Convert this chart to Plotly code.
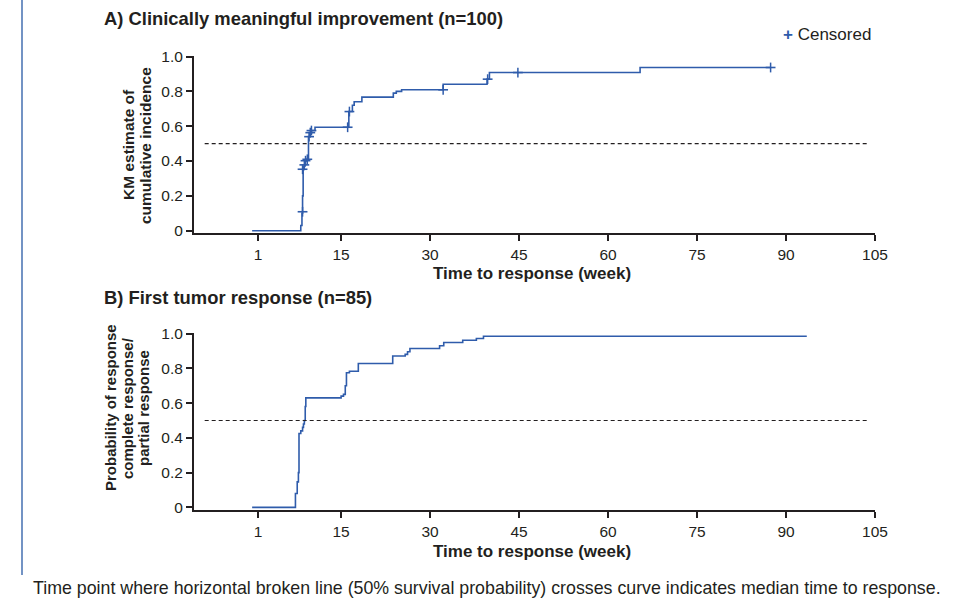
import plotly.graph_objects as go

# ---- Data -------------------------------------------------------------
# A) Clinically meaningful improvement (KM step curve)
a_time = [0, 8.2, 8.4, 8.5, 8.6, 8.7, 8.9, 9.2, 9.5, 9.7, 10.0, 10.6,
          16.3, 16.9, 17.2, 18.5, 23.8, 24.3, 25.2, 32.2, 39.6, 40.0, 65.4, 87.4]
a_prob = [0, 0.03, 0.10, 0.20, 0.35, 0.37, 0.40, 0.41, 0.54, 0.56, 0.575, 0.594,
          0.684, 0.72, 0.74, 0.767, 0.79, 0.80, 0.809, 0.841, 0.870, 0.908, 0.937, 0.937]
a_cens_time = [8.5, 8.5, 8.8, 9.0, 9.3, 9.6, 9.8, 10.0, 16.1, 16.4, 32.2, 39.7, 44.8, 87.4]
a_cens_prob = [0.109, 0.353, 0.378, 0.402, 0.41, 0.54, 0.563, 0.575, 0.594, 0.684,
               0.809, 0.870, 0.908, 0.937]

# B) First tumor response (KM step curve)
b_time = [0, 7.3, 7.6, 7.8, 7.9, 8.2, 8.5, 8.65, 8.8, 8.95, 9.05, 15.0, 15.4, 15.7,
          15.9, 16.4, 17.9, 23.7, 25.8, 26.2, 26.6, 31.6, 32.3, 35.5, 37.8, 39.0, 93.5]
b_prob = [0, 0.08, 0.147, 0.20, 0.425, 0.44, 0.46, 0.48, 0.50, 0.58, 0.63, 0.64, 0.65,
          0.70, 0.774, 0.783, 0.828, 0.871, 0.88, 0.895, 0.914, 0.93, 0.948, 0.961,
          0.971, 0.984, 0.984]

x_tickvals = [1, 15, 30, 45, 60, 75, 90, 105]
x_ticktext = ["1", "15", "30", "45", "60", "75", "90", "105"]
y_tickvals = [0, 0.2, 0.4, 0.6, 0.8, 1.0]
y_ticktext = ["0", "0.2", "0.4", "0.6", "0.8", "1.0"]
median_level = 0.5

# ---- Styling ----------------------------------------------------------
W, H = 963, 603
BLUE = "#2f5cab"
INK = "#231f20"
FONT = "Liberation Sans, Arial, Helvetica, sans-serif"

def px_x(p):
    return p / W

def px_y(p):
    return 1 - p / H

fig = go.Figure()

fig.add_trace(go.Scatter(x=a_time, y=a_prob, mode="lines", line=dict(color=BLUE, width=1.6, shape="hv"),
                         xaxis="x", yaxis="y", showlegend=False, hoverinfo="skip"))
fig.add_trace(go.Scatter(x=a_cens_time, y=a_cens_prob, mode="markers",
                         marker=dict(symbol="line-ew", size=7, line=dict(color=BLUE, width=1.6)),
                         xaxis="x", yaxis="y", showlegend=False, hoverinfo="skip"))
fig.add_trace(go.Scatter(x=a_cens_time, y=a_cens_prob, mode="markers",
                         marker=dict(symbol="line-ns", size=7, line=dict(color=BLUE, width=1.5)),
                         xaxis="x", yaxis="y", showlegend=False, hoverinfo="skip"))
fig.add_trace(go.Scatter(x=b_time, y=b_prob, mode="lines", line=dict(color=BLUE, width=1.6, shape="hv"),
                         xaxis="x2", yaxis="y2", showlegend=False, hoverinfo="skip"))

x_dom = [px_x(194), px_x(875)]
x_range = [-9.8, 105]

axis_common = dict(showline=True, linecolor=INK, linewidth=2, ticks="outside",
                   tickcolor=INK, tickwidth=1.5, ticklen=6, showgrid=False, zeroline=False,
                   automargin=False,
                   tickfont=dict(family=FONT, size=15.5, color=INK), fixedrange=True)

fig.update_layout(
    width=W, height=H, autosize=False,
    margin=dict(l=0, r=0, t=0, b=0, pad=0, autoexpand=False),
    paper_bgcolor="white", plot_bgcolor="white",
    xaxis=dict(domain=x_dom, range=x_range, anchor="y", tickvals=x_tickvals, ticktext=x_ticktext,
               ticklabelstandoff=0, **axis_common),
    yaxis=dict(domain=[px_y(233), px_y(56)], range=[-0.013, 1.003], anchor="x",
               tickvals=y_tickvals, ticktext=y_ticktext, **axis_common),
    xaxis2=dict(domain=x_dom, range=x_range, anchor="y2", tickvals=x_tickvals, ticktext=x_ticktext,
                ticklabelstandoff=0, **axis_common),
    yaxis2=dict(domain=[px_y(510), px_y(333)], range=[-0.015, 1.003], anchor="x2",
                tickvals=y_tickvals, ticktext=y_ticktext, **axis_common),
    font=dict(family=FONT, color=INK),
)

# median reference lines
for xr, yr in (("x", "y"), ("x2", "y2")):
    fig.add_shape(type="line", xref=xr, yref=yr, x0=-8, x1=104, y0=median_level, y1=median_level,
                  line=dict(color=INK, width=1.1, dash="4px,3px"))

# left blue rule
fig.add_shape(type="line", xref="paper", yref="paper", x0=px_x(22), x1=px_x(22), y0=px_y(575), y1=1,
              line=dict(color="#7393c4", width=2))

def ann(text, x, y, size=15, bold=False, xanchor="left", yanchor="middle", angle=0, color=INK):
    if bold:
        text = "<b>" + text + "</b>"
    fig.add_annotation(text=text, x=px_x(x), y=px_y(y), xref="paper", yref="paper",
                       showarrow=False, xanchor=xanchor, yanchor=yanchor, textangle=angle,
                       font=dict(family=FONT, size=size, color=color))

ann("A) Clinically meaningful improvement (n=100)", 102, 19, size=18.4, bold=True)
ann("B) First tumor response (n=85)", 102, 297, size=18.4, bold=True)
ann("Time to response (week)", 532, 273, size=17, bold=True, xanchor="center")
ann("Time to response (week)", 532, 551, size=17, bold=True, xanchor="center")
ann("KM estimate of", 128, 145, size=15.5, bold=True, xanchor="center", angle=-90)
ann("cumulative incidence", 145, 146, size=15.5, bold=True, xanchor="center", angle=-90)
ann("Probability of response", 110, 408, size=15, bold=True, xanchor="center", angle=-90)
ann("complete response/", 127, 408, size=15, bold=True, xanchor="center", angle=-90)
ann("partial response", 143, 408, size=15, bold=True, xanchor="center", angle=-90)
ann("<span style='color:%s'><b>+</b></span> Censored" % BLUE, 781, 35, size=17)
ann("Time point where horizontal broken line (50% survival probability) crosses curve indicates median time to response.",
    31, 588, size=17.8)

post = (
    "document.documentElement.style.margin='0';"
    "document.documentElement.style.padding='0';"
    "document.documentElement.style.overflow='hidden';"
    "document.body.style.margin='0';document.body.style.padding='0';"
    "document.body.style.overflow='hidden';"
    "var gd=document.getElementById('{plot_id}');"
    "gd.style.position='fixed';gd.style.left='0px';gd.style.top='0px';"
    "gd.style.width='963px';gd.style.height='603px';"
    "Plotly.relayout(gd,{width:963,height:603});"
)

fig.write_html("out.html", config={"displayModeBar": False, "responsive": False},
               default_width="963px", default_height="603px", post_script=post)
